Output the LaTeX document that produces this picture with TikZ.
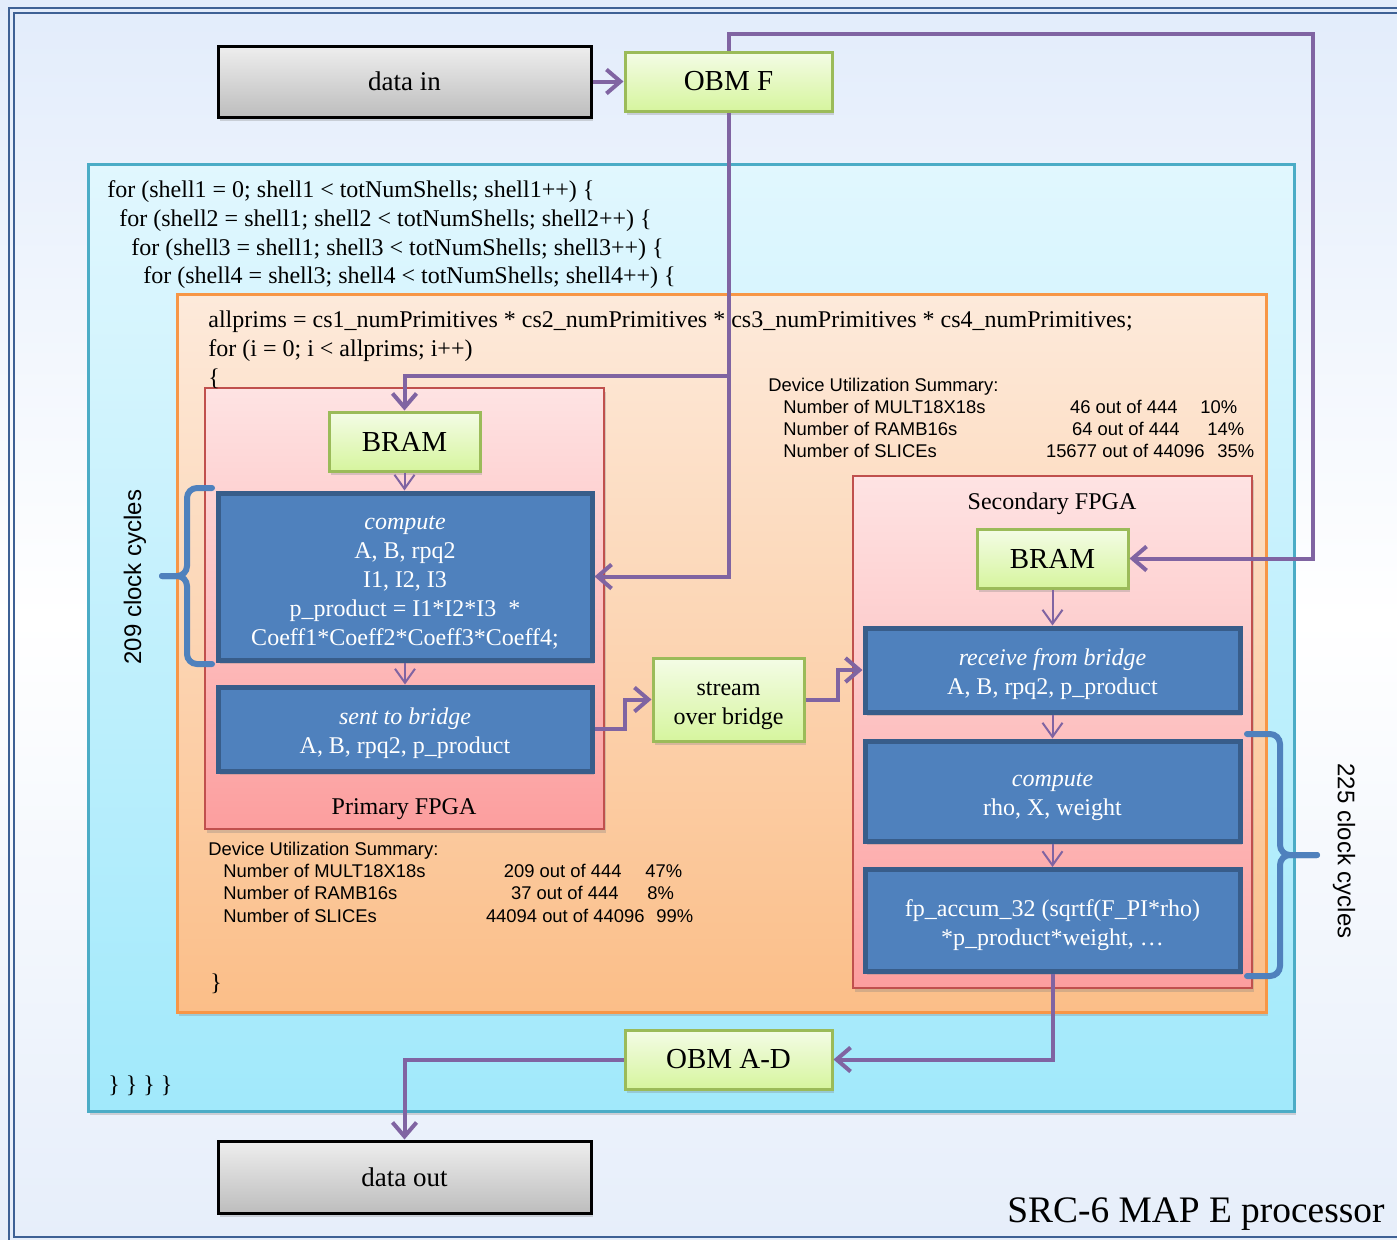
\documentclass[tikz,border=0pt]{standalone}
\usepackage{fontspec}
\setmainfont{Liberation Serif}
\setsansfont{Liberation Sans}
\usetikzlibrary{arrows.meta,shadows}
\definecolor{purp}{HTML}{8064A2}
\definecolor{blueF}{HTML}{4F81BD}
\definecolor{blueD}{HTML}{385D8A}
\definecolor{greenT}{HTML}{F4FCE6}
\definecolor{greenB}{HTML}{D6F59E}
\definecolor{greenD}{HTML}{9BBB59}
\definecolor{grayT}{HTML}{EEEEEE}
\definecolor{grayB}{HTML}{BDBDBD}
\definecolor{cyanT}{HTML}{E1F7FE}
\definecolor{cyanB}{HTML}{A1E9FB}
\definecolor{cyanD}{HTML}{4BACC6}
\definecolor{orT}{HTML}{FDEADB}
\definecolor{orB}{HTML}{FBBE88}
\definecolor{orD}{HTML}{F79646}
\definecolor{pkT}{HTML}{FEE3E3}
\definecolor{pkB}{HTML}{FC9E9E}
\definecolor{pkD}{HTML}{C0504D}
\definecolor{frameC}{HTML}{3E6195}
\definecolor{bgT}{HTML}{E2ECFB}
\definecolor{bgB}{HTML}{E6EEFA}
\newcommand{\topstrut}{\rule{0pt}{13pt}}
\begin{document}
\begin{tikzpicture}[x=0.5pt,y=-0.5pt,
  sh/.style={drop shadow={opacity=0.3,shadow xshift=1.2pt,shadow yshift=-1.8pt}},
  graybox/.style={draw=black,line width=1.5pt,top color=grayT,bottom color=grayB,
    minimum width=186.5pt,minimum height=35.5pt,inner sep=0pt,
    font=\fontsize{13.5}{16}\selectfont,sh},
  greenbox/.style={draw=greenD,line width=1.5pt,top color=greenT,bottom color=greenB,
    inner sep=0pt,sh},
  bluebox/.style={draw=blueD,line width=2.5pt,fill=blueF,text=white,align=center,
    inner sep=0pt,minimum width=187pt,font=\fontsize{12}{14.5}\selectfont,sh},
  conn/.style={draw=purp,line width=2pt,-{Straight Barb[length=7pt,width=12pt]}},
  thinconn/.style={draw=purp,line width=1pt,-{Straight Barb[length=7pt,width=10pt]}},
  codeline/.style={anchor=west,inner sep=0pt,font=\fontsize{12}{14.5}\selectfont,
    text height=9pt,text depth=3pt},
  devline/.style={anchor=west,inner sep=0pt,font=\sffamily\fontsize{9.2}{11}\selectfont,
    text height=6.9pt,text depth=2.3pt},
  bracepath/.style={draw=blueF,line width=3pt,rounded corners=5pt,line cap=round},
  framepath/.style={draw=frameC,line width=1.3pt},
  titlef/.style={inner sep=0pt,anchor=base,font=\fontsize{18.7}{22}\selectfont}
]
\useasboundingbox (0,0) rectangle (1397,1239);
% background
\shade[top color=bgT,bottom color=bgB,middle color=white] (0,0) rectangle (1397,1239);
\draw[framepath] (9,8) rectangle (1420,1243);
\draw[framepath] (14,13) rectangle (1415,1237);

% containers
\draw[cyanD,line width=1.5pt,top color=cyanT,bottom color=cyanB,sh] (88,164) rectangle (1294,1111);
\draw[orD,line width=1.5pt,top color=orT,bottom color=orB,sh] (177,294) rectangle (1266,1012);
\draw[pkD,line width=1pt,top color=pkT,bottom color=pkB,sh] (205,388) rectangle (604,829);
\draw[pkD,line width=1pt,top color=pkT,bottom color=pkB,sh] (853,476) rectangle (1252,988);

% code text
\node[codeline] (l1) at (107,191.5) {for (shell1 = 0; shell1 < totNumShells; shell1++) \{};
\node[codeline] (l2) at (119,220) {for (shell2 = shell1; shell2 < totNumShells; shell2++) \{};
\node[codeline] (l3) at (131,249) {for (shell3 = shell1; shell3 < totNumShells; shell3++) \{};
\node[codeline] (l4) at (143,277.5) {for (shell4 = shell3; shell4 < totNumShells; shell4++) \{};
\node[codeline] (l5) at (208,321) {allprims = cs1\_numPrimitives * cs2\_numPrimitives * cs3\_numPrimitives * cs4\_numPrimitives;};
\node[codeline] (l6) at (208,350) {for (i = 0; i < allprims; i++)};
\node[codeline] (l7) at (208,379) {\{};
\node[codeline] (l8) at (210,984) {\}};
\node[codeline] (l9) at (108,1086) {\} \} \} \}};

% device utilization (secondary)
\node[devline] (d1) at (768,387) {Device Utilization Summary:};
\node[devline] (d2) at (783,409) {Number of MULT18X18s};
\node[devline] (d3) at (783,431) {Number of RAMB16s};
\node[devline] (d4) at (783,453) {Number of SLICEs};
\node[devline,anchor=east] (d5) at (1178,409) {46 out of 444};
\node[devline,anchor=east] (d6) at (1180,431) {64 out of 444};
\node[devline,anchor=east] (d7) at (1205,453) {15677 out of 44096};
\node[devline] (d8) at (1200,409) {10\%};
\node[devline] (d9) at (1207,431) {14\%};
\node[devline] (d10) at (1217,453) {35\%};
% device utilization (primary)
\node[devline] (e1) at (208,851) {Device Utilization Summary:};
\node[devline] (e2) at (223,873) {Number of MULT18X18s};
\node[devline] (e3) at (223,895) {Number of RAMB16s};
\node[devline] (e4) at (223,918) {Number of SLICEs};
\node[devline,anchor=east] (e5) at (622,873) {209 out of 444};
\node[devline,anchor=east] (e6) at (619,895) {37 out of 444};
\node[devline,anchor=east] (e7) at (645,918) {44094 out of 44096};
\node[devline] (e8) at (645,873) {47\%};
\node[devline] (e9) at (647,895) {8\%};
\node[devline] (e10) at (656,918) {99\%};

% labels
\node[font=\fontsize{12}{14.5}\selectfont] (plab) at (404,809) {Primary FPGA};
\node[font=\fontsize{12}{14.5}\selectfont] (slab) at (1052,504) {Secondary FPGA};
\node[rotate=90,font=\sffamily\fontsize{12}{14}\selectfont] (cc1) at (135,577) {209 clock cycles};
\node[rotate=-90,font=\sffamily\fontsize{12}{14}\selectfont] (cc2) at (1344,851) {225 clock cycles};

% boxes
\node[graybox] (datain) at (404.5,81.5) {data in};
\node[graybox,minimum height=36pt] (dataout) at (404.5,1177) {data out};
\node[greenbox,minimum width=103.5pt,minimum height=29.5pt,font=\fontsize{14.5}{17}\selectfont] (obmf) at (728.5,81.5) {OBM F};
\node[greenbox,minimum width=103.5pt,minimum height=29.5pt,font=\fontsize{14.5}{17}\selectfont] (obmad) at (728.5,1059.5) {OBM A-D};
\node[greenbox,minimum width=75.5pt,minimum height=29.5pt,font=\fontsize{14.5}{17}\selectfont] (bram1) at (404.5,441.5) {BRAM};
\node[greenbox,minimum width=75.5pt,minimum height=29.5pt,font=\fontsize{14.5}{17}\selectfont] (bram2) at (1052.5,558.5) {BRAM};
\node[greenbox,minimum width=75.5pt,minimum height=41.5pt,align=center,font=\fontsize{12}{14.5}\selectfont] (stream) at (728.5,699.5) {\topstrut stream\\over bridge};
\node[bluebox,minimum height=83.5pt] (comp1) at (405,576.5) {\topstrut\textit{compute}\\A, B, rpq2\\I1, I2, I3\\p\_product = I1*I2*I3\ \ *\\Coeff1*Coeff2*Coeff3*Coeff4;};
\node[bluebox,minimum height=42pt] (sent) at (405,729) {\topstrut\textit{sent to bridge}\\A, B, rpq2, p\_product};
\node[bluebox,minimum width=187.5pt,minimum height=42pt] (recv) at (1052.5,670) {\topstrut\textit{receive from bridge}\\A, B, rpq2, p\_product};
\node[bluebox,minimum width=187.5pt,minimum height=50pt] (comp2) at (1052.5,791) {\topstrut\textit{compute}\\rho, X, weight};
\node[bluebox,minimum width=187.5pt,minimum height=51pt] (fp) at (1052.5,920.5) {\topstrut fp\_accum\_32 (sqrtf(F\_PI*rho)\\*p\_product*weight, …};

% braces
\draw[bracepath] (212,488) -- (187,488) -- (187,576) -- (162,576);
\draw[bracepath] (162,576) -- (187,576) -- (187,664) -- (212,664);
\draw[bracepath] (1247,734) -- (1280,734) -- (1280,855) -- (1317,855);
\draw[bracepath] (1317,855) -- (1280,855) -- (1280,976) -- (1247,976);

% connectors
\coordinate (j1) at (728.5,376);
\draw[conn] (datain) -- (obmf);
\draw[conn] (obmf.north) -- (728.5,34) -- (1313,34) |- (bram2.east);
\draw[conn] (obmf.south) |- (comp1.east);
\draw[conn] (j1) -| (bram1.north);
\draw[thinconn] (bram1.south) -- (bram1.south |- comp1.north);
\draw[thinconn] (comp1.south) -- (sent.north);
\draw[conn] (sent.east) -- ++(30,0) |- (stream.west);
\draw[conn] (stream.east) -- ++(32,0) |- (recv.west);
\draw[thinconn] (bram2.south) -- (recv.north);
\draw[thinconn] (recv.south) -- (comp2.north);
\draw[thinconn] (comp2.south) -- (fp.north);
\draw[conn] (fp.south) |- (obmad.east);
\draw[conn] (obmad.west) -| (dataout.north);

% title
\node[titlef] (title) at (1196,1222) {SRC-6 MAP E processor};
\end{tikzpicture}
\end{document}
